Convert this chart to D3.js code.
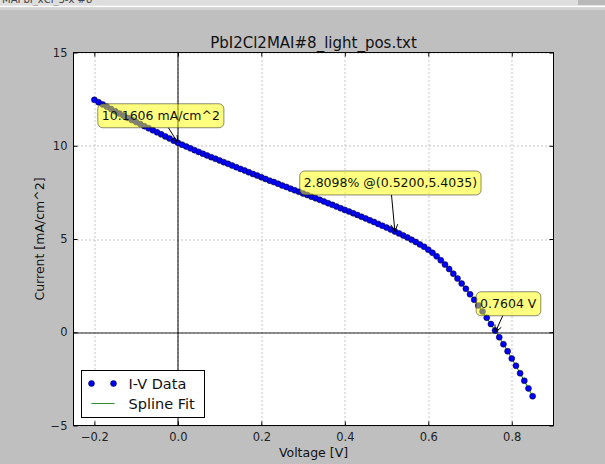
<!DOCTYPE html>
<html lang="en">
<head>
  <meta charset="UTF-8">
  <title>PbI2Cl2MAI#8_light_pos.txt</title>
  <script src="https://d3js.org/d3.v7.min.js"></script>
  <style>
    body {
      margin: 0;
      font-family: "DejaVu Sans", sans-serif;
    }
    svg { display: block; }
    .tick line { stroke: #000; }
    .tick text { font-size: 11.5px; fill: #222; font-family: "DejaVu Sans", sans-serif; }
    .grid line { stroke: #8a8a8a; stroke-dasharray: 1,3; }
  </style>
</head>
<body>
  <svg width="605" height="464"></svg>

  <script>
    // I-V sweep
    const voltage = [
      -0.20, -0.19, -0.18, -0.17, -0.16, -0.15, -0.14, -0.13, -0.12, -0.11,
      -0.10, -0.09, -0.08, -0.07, -0.06, -0.05, -0.04, -0.03, -0.02, -0.01,
       0.00,  0.01,  0.02,  0.03,  0.04,  0.05,  0.06,  0.07,  0.08,  0.09,
       0.10,  0.11,  0.12,  0.13,  0.14,  0.15,  0.16,  0.17,  0.18,  0.19,
       0.20,  0.21,  0.22,  0.23,  0.24,  0.25,  0.26,  0.27,  0.28,  0.29,
       0.30,  0.31,  0.32,  0.33,  0.34,  0.35,  0.36,  0.37,  0.38,  0.39,
       0.40,  0.41,  0.42,  0.43,  0.44,  0.45,  0.46,  0.47,  0.48,  0.49,
       0.50,  0.51,  0.52,  0.53,  0.54,  0.55,  0.56,  0.57,  0.58,  0.59,
       0.60,  0.61,  0.62,  0.63,  0.64,  0.65,  0.66,  0.67,  0.68,  0.69,
       0.70,  0.71,  0.72,  0.73,  0.74,  0.75,  0.76,  0.77,  0.78,  0.79,
       0.80,  0.81,  0.82,  0.83,  0.84,  0.85
    ];
    const current = [
      12.46, 12.33, 12.21, 12.09, 11.97, 11.85, 11.73, 11.61, 11.49, 11.38,
      11.27, 11.16, 11.05, 10.94, 10.83, 10.72, 10.61, 10.50, 10.39, 10.27,
      10.16, 10.06,  9.96,  9.86,  9.76,  9.67,  9.57,  9.48,  9.39,  9.30,
       9.21,  9.12,  9.03,  8.94,  8.85,  8.76,  8.67,  8.58,  8.49,  8.40,
       8.31,  8.22,  8.13,  8.05,  7.96,  7.87,  7.79,  7.70,  7.61,  7.53,
       7.44,  7.36,  7.27,  7.18,  7.10,  7.01,  6.92,  6.83,  6.74,  6.65,
       6.56,  6.47,  6.38,  6.29,  6.19,  6.10,  6.00,  5.91,  5.81,  5.71,
       5.61,  5.51,  5.40,  5.30,  5.19,  5.08,  4.96,  4.84,  4.71,  4.58,
       4.43,  4.26,  4.07,  3.86,  3.63,  3.39,  3.14,  2.88,  2.61,  2.33,
       2.04,  1.74,  1.43,  1.11,  0.78,  0.44,  0.09, -0.27, -0.64, -1.02,
      -1.41, -1.80, -2.20, -2.60, -3.01, -3.43
    ];

    const xTicks = [-0.2, 0.0, 0.2, 0.4, 0.6, 0.8];
    const yTicks = [-5, 0, 5, 10, 15];

    // Isc, max power point, Voc
    const noteLabels = ["10.1606 mA/cm^2", "2.8098% @(0.5200,5.4035)", "0.7604 V"];
    const noteV = [0.0, 0.52, 0.7604];
    const noteI = [10.1606, 5.4035, 0.0];

    const seriesNames = ["I-V Data", "Spline Fit"];

    const svg = d3.select("svg"),
          width = +svg.attr("width"),
          height = +svg.attr("height"),
          margin = { top: 52.5, right: 51.5, bottom: 38.5, left: 73.5 },
          innerWidth = width - margin.left - margin.right,
          innerHeight = height - margin.top - margin.bottom;

    // figure background + the window strip at the very top
    svg.append("rect").attr("width", width).attr("height", height).attr("fill", "#bfbfbf");
    svg.append("rect").attr("width", width).attr("height", 5.5).attr("fill", "#dedede");
    svg.append("rect").attr("x", 578).attr("width", width - 578).attr("height", 5.5).attr("fill", "#b9b9b9");
    svg.append("text").attr("x", 2).attr("y", 3).style("font-size", "10px").attr("fill", "#444")
      .text("MAPbI_xCl_3-x #8");
    svg.append("rect").attr("y", 5.5).attr("width", width).attr("height", 2).attr("fill", "#fff");
    svg.append("rect").attr("y", 7.5).attr("width", width).attr("height", 2.5).attr("fill", "#d2d2d2");

    const g = svg.append("g").attr("transform", `translate(${margin.left},${margin.top})`);

    const x = d3.scaleLinear().domain([-0.25, 0.9]).range([0, innerWidth]);
    const y = d3.scaleLinear().domain([-5, 15]).range([innerHeight, 0]);

    g.append("rect").attr("width", innerWidth).attr("height", innerHeight).attr("fill", "#fff");

    // dotted grid
    const grid = g.append("g").attr("class", "grid");
    grid.selectAll(".gx").data(xTicks).enter().append("line")
      .attr("x1", d => Math.round(x(d)) + 0.5).attr("x2", d => Math.round(x(d)) + 0.5)
      .attr("y1", 0).attr("y2", innerHeight);
    grid.selectAll(".gy").data(yTicks).enter().append("line")
      .attr("y1", d => Math.round(y(d)) + 0.5).attr("y2", d => Math.round(y(d)) + 0.5)
      .attr("x1", 0).attr("x2", innerWidth);

    // zero lines
    g.append("line").attr("x1", 0).attr("x2", innerWidth)
      .attr("y1", Math.round(y(0)) + 0.5).attr("y2", Math.round(y(0)) + 0.5)
      .attr("stroke", "#222");
    g.append("line").attr("y1", 0).attr("y2", innerHeight)
      .attr("x1", Math.round(x(0)) + 0.5).attr("x2", Math.round(x(0)) + 0.5)
      .attr("stroke", "#000");

    const pts = voltage.map((v, i) => [v, current[i]]);

    // spline fit
    const line = d3.line().x(d => x(d[0])).y(d => y(d[1])).curve(d3.curveNatural);
    g.append("path").datum(pts).attr("d", line)
      .attr("fill", "none").attr("stroke", "#008000").attr("stroke-width", 1);

    // data points
    g.selectAll(".dot").data(pts).enter().append("circle")
      .attr("class", "dot")
      .attr("cx", d => x(d[0])).attr("cy", d => y(d[1])).attr("r", 3)
      .attr("fill", "#0000ff").attr("stroke", "#000").attr("stroke-width", 0.5);

    // axes, ticks pointing inward on all four sides
    const xa = g.append("g").attr("transform", `translate(0,${innerHeight})`)
      .call(d3.axisBottom(x).tickValues(xTicks).tickFormat(d3.format(".1f"))
        .tickSizeInner(-4).tickSizeOuter(0).tickPadding(7));
    const ya = g.append("g")
      .call(d3.axisLeft(y).tickValues(yTicks).tickFormat(d3.format("d"))
        .tickSizeInner(-4).tickSizeOuter(0).tickPadding(6));
    const xt = g.append("g")
      .call(d3.axisTop(x).tickValues(xTicks).tickSizeInner(-4).tickSizeOuter(0));
    const yr = g.append("g").attr("transform", `translate(${innerWidth},0)`)
      .call(d3.axisRight(y).tickValues(yTicks).tickSizeInner(-4).tickSizeOuter(0));
    [xa, ya, xt, yr].forEach(a => a.select(".domain").remove());
    [xt, yr].forEach(a => a.selectAll(".tick text").remove());

    g.append("rect").attr("width", innerWidth).attr("height", innerHeight)
      .attr("fill", "none").attr("stroke", "#000");

    // annotations
    const noteOffset = [[-17, -27], [-4.5, -48.5], [13, -28.5]];
    noteLabels.forEach((label, i) => {
      const px = x(noteV[i]), py = y(noteI[i]);
      const cx = px + noteOffset[i][0], cy = py + noteOffset[i][1];
      const ng = g.append("g");
      const box = ng.append("rect");
      const t = ng.append("text").attr("x", cx).attr("y", cy).attr("dy", "0.35em")
        .attr("text-anchor", "middle").style("font-size", "12.5px").attr("fill", "#111").text(label);
      const bb = t.node().getBBox();
      const pad = 4, hh = 12;
      box.attr("x", bb.x - pad).attr("y", cy - hh).attr("width", bb.width + 2 * pad).attr("height", 2 * hh)
        .attr("rx", 5).attr("fill", "yellow").attr("fill-opacity", 0.5)
        .attr("stroke", "#000").attr("stroke-opacity", 0.45);
      // arrow from box edge to the point
      const dx = px - cx, dy = py - cy;
      const tEdge = hh / dy;
      const sx = cx + dx * tEdge, sy = cy + hh;
      const len = Math.hypot(px - sx, py - sy);
      const ux = (px - sx) / len, uy = (py - sy) / len;
      const hl = 7, hw = 3.5;
      ng.append("line").attr("x1", sx).attr("y1", sy).attr("x2", px).attr("y2", py)
        .attr("stroke", "#000").attr("stroke-width", 1);
      ng.append("path")
        .attr("d", `M${px - ux * hl - uy * hw},${py - uy * hl + ux * hw}L${px},${py}L${px - ux * hl + uy * hw},${py - uy * hl - ux * hw}`)
        .attr("fill", "none").attr("stroke", "#000").attr("stroke-width", 1);
    });

    // legend
    const lg = svg.append("g").attr("transform", "translate(81.5,370.5)");
    lg.append("rect").attr("width", 123).attr("height", 47).attr("fill", "#fff").attr("stroke", "#000");
    [10, 32].forEach(mx => lg.append("circle").attr("cx", mx).attr("cy", 13).attr("r", 3)
      .attr("fill", "#0000ff").attr("stroke", "#000").attr("stroke-width", 0.5));
    lg.append("line").attr("x1", 10).attr("x2", 33).attr("y1", 33).attr("y2", 33)
      .attr("stroke", "#2e8b2e").attr("stroke-width", 1);
    lg.selectAll(".lt").data(seriesNames).enter().append("text")
      .attr("x", 47).attr("y", (d, i) => 18 + i * 20.5)
      .style("font-size", "14.5px").attr("fill", "#111").text(d => d);

    // title and axis labels
    svg.append("text").attr("x", margin.left + innerWidth / 2).attr("y", 47.5)
      .attr("text-anchor", "middle").style("font-size", "15px").attr("fill", "#111")
      .text("PbI2Cl2MAI#8_light_pos.txt");
    svg.append("text").attr("x", margin.left + innerWidth / 2).attr("y", 457)
      .attr("text-anchor", "middle").style("font-size", "12.5px").attr("fill", "#111")
      .text("Voltage [V]");
    svg.append("text").attr("transform", `translate(44,${margin.top + innerHeight / 2}) rotate(-90)`)
      .attr("text-anchor", "middle").style("font-size", "12.5px").attr("fill", "#111")
      .text("Current [mA/cm^2]");
  </script>
</body>
</html>
